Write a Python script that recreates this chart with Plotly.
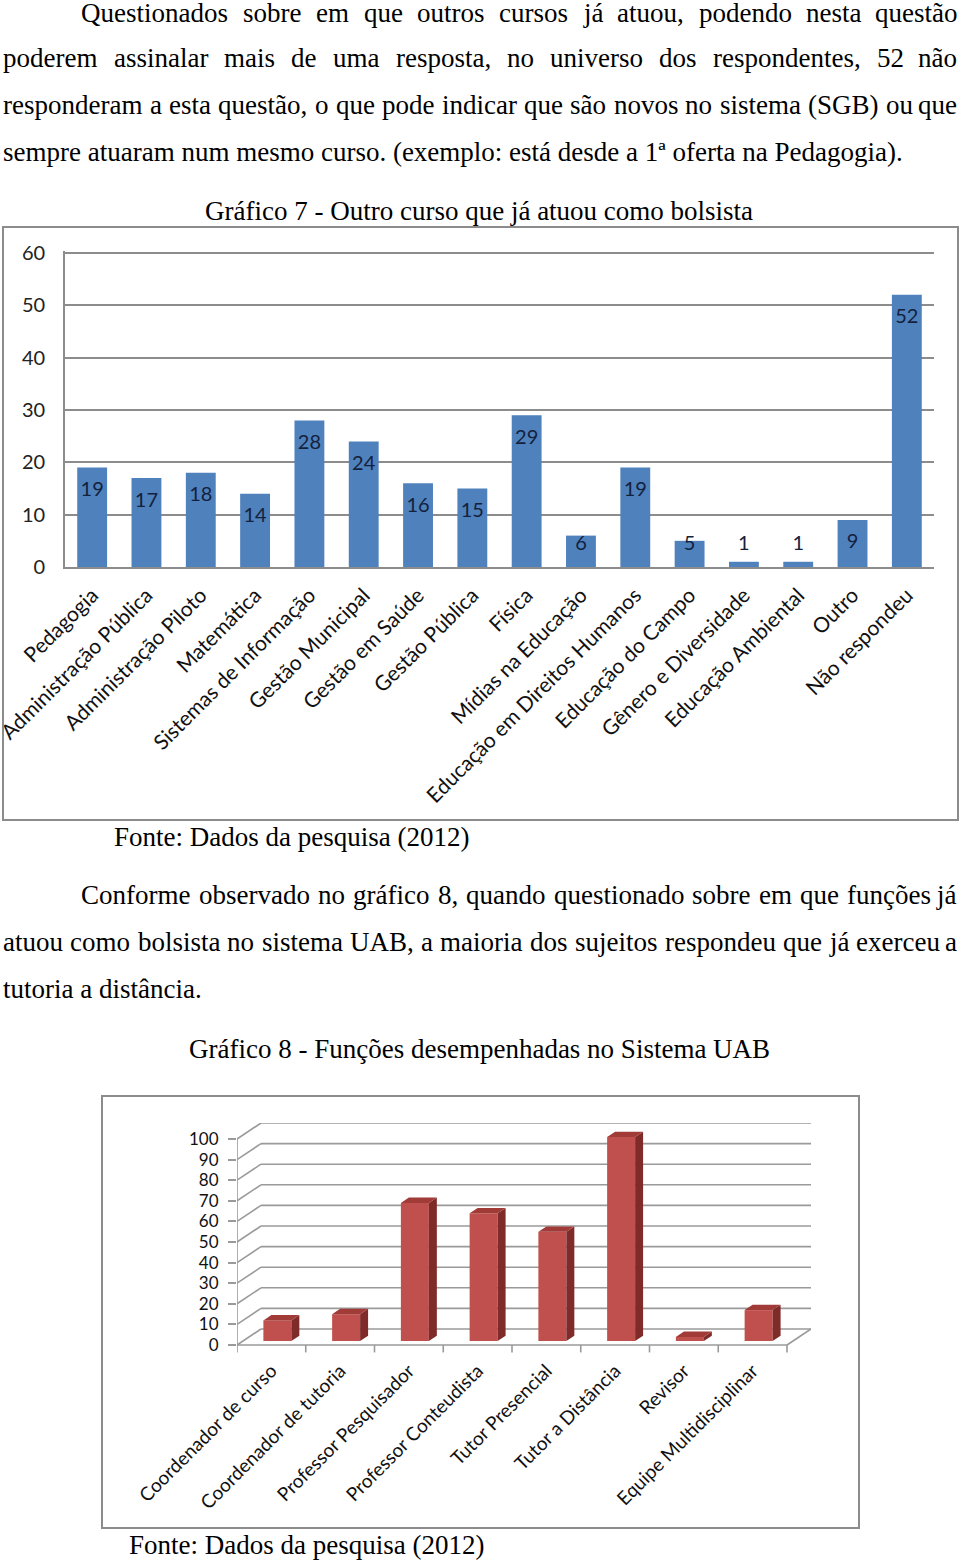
import unicodedata
import plotly.graph_objects as go

W, H = 960, 1561

# ---------------- data ----------------
courses = ["Pedagogia", "Administração Pública", "Administração Piloto", "Matemática",
           "Sistemas de Informação", "Gestão Municipal", "Gestão em Saúde", "Gestão Pública",
           "Física", "Mídias na Educação", "Educação em Direitos Humanos", "Educação do Campo",
           "Gênero e Diversidade", "Educação Ambiental", "Outro", "Não respondeu"]
course_counts = [19, 17, 18, 14, 28, 24, 16, 15, 29, 6, 19, 5, 1, 1, 9, 52]
y1_ticks = [0, 10, 20, 30, 40, 50, 60]

roles = ["Coordenador de curso", "Coordenador de tutoria", "Professor Pesquisador",
         "Professor Conteudista", "Tutor Presencial", "Tutor a Distância", "Revisor",
         "Equipe Multidisciplinar"]
role_counts = [10, 13, 67, 62, 53, 99, 2, 15]
y2_ticks = [0, 10, 20, 30, 40, 50, 60, 70, 80, 90, 100]

para1 = ["Questionados sobre em que outros cursos já atuou, podendo nesta questão",
         "poderem assinalar mais de uma resposta, no universo dos respondentes, 52 não",
         "responderam a esta questão, o que pode indicar que são novos no sistema (SGB) ou que",
         "sempre atuaram num mesmo curso. (exemplo: está desde a 1ª oferta na Pedagogia)."]
para2 = ["Conforme observado no gráfico 8, quando questionado sobre em que funções já",
         "atuou como bolsista no sistema UAB, a maioria dos sujeitos respondeu que já exerceu a",
         "tutoria a distância."]
title1 = "Gráfico 7 - Outro curso que já atuou como bolsista"
title2 = "Gráfico 8 - Funções desempenhadas no Sistema UAB"
source = "Fonte: Dados da pesquisa (2012)"

# ---------------- helpers ----------------
def fx(px):
    return px / W

def fy(py):
    return 1 - py / H

SERIF = "Liberation Serif"
SANS = "Lato"
TS = 27

TW = {' ': 250, '!': 333, '(': 333, ')': 333, ',': 250, '-': 333, '.': 250, ':': 278,
      'ª': 276}
for d in "0123456789":
    TW[d] = 500
TW.update({'A': 722, 'B': 667, 'C': 667, 'D': 722, 'E': 611, 'F': 556, 'G': 722, 'H': 722,
           'I': 333, 'J': 389, 'K': 722, 'L': 611, 'M': 889, 'N': 722, 'O': 722, 'P': 556,
           'Q': 722, 'R': 667, 'S': 556, 'T': 611, 'U': 722, 'V': 722, 'W': 944, 'X': 722,
           'Y': 722, 'Z': 611,
           'a': 444, 'b': 500, 'c': 444, 'd': 500, 'e': 444, 'f': 333, 'g': 500, 'h': 500,
           'i': 278, 'j': 278, 'k': 500, 'l': 278, 'm': 778, 'n': 500, 'o': 500, 'p': 500,
           'q': 500, 'r': 333, 's': 389, 't': 278, 'u': 500, 'v': 500, 'w': 722, 'x': 500,
           'y': 500, 'z': 444})

def tw(s, size=TS):
    tot = 0
    for ch in s:
        if ch not in TW:
            ch = unicodedata.normalize("NFD", ch)[0]
        tot += TW.get(ch, 500)
    return tot * size / 1000.0

annotations = []

def text_ann(txt, x, y, anchor="left", size=TS, font=SERIF):
    annotations.append(dict(text=txt, x=fx(x), y=fy(y), xref="paper", yref="paper",
                            xanchor=anchor, yanchor="middle", showarrow=False,
                            borderpad=0, font=dict(family=font, size=size, color="black")))

def justify(line, left, right, y):
    words = line.split(" ")
    widths = [tw(w) for w in words]
    gap = (right - left - sum(widths)) / (len(words) - 1)
    x = left
    for i, w in enumerate(words):
        if i == len(words) - 1:
            text_ann(w, right, y, "right")
        else:
            text_ann(w, x, y, "left")
        x += widths[i] + gap

# paragraphs
justify(para1[0], 80, 958, 13)
justify(para1[1], 2, 958, 58)
justify(para1[2], 2, 958, 105)
text_ann(para1[3], 2, 152)
text_ann(title1, 479, 211, "center")
text_ann(source, 113, 837)
justify(para2[0], 80, 958, 895)
justify(para2[1], 2, 958, 942)
text_ann(para2[2], 2, 989)
text_ann(title2, 479, 1049, "center")
text_ann(source, 128, 1545)

fig = go.Figure()

# ---------------- chart 1 ----------------
fig.add_trace(go.Bar(x=courses, y=course_counts, marker=dict(color="#4f81bd", line=dict(width=0)),
                     xaxis="x", yaxis="y", hoverinfo="x+y", showlegend=False))
lab_y = [max(v - 4.5, 4.2) for v in course_counts]
fig.add_trace(go.Scatter(x=courses, y=lab_y, mode="text", text=[str(v) for v in course_counts],
                         textfont=dict(family=SANS, size=20, color="#14213d"),
                         xaxis="x", yaxis="y", hoverinfo="skip", showlegend=False,
                         cliponaxis=False))

# ---------------- chart 2 (3-D look) ----------------
DX = 24 / 68.75          # depth offset in category units
DY = 16 / 2.06           # depth offset in value units
BW = 0.407               # bar front width
SDX = 0.116              # bar side depth
SDY = 2.6                # bar top depth
b0 = 0.25 * DY
xc = [i + 0.25 * DX for i in range(len(roles))]

fig.add_trace(go.Bar(x=xc, y=role_counts, base=[b0] * len(roles), width=BW,
                     marker=dict(color="#c0504d", line=dict(width=0)),
                     xaxis="x2", yaxis="y2", hovertext=roles, hoverinfo="text+y",
                     showlegend=False))
sx, sy, tx, ty = [], [], [], []
for x, v in zip(xc, role_counts):
    r, l, top = x + BW / 2, x - BW / 2, b0 + v
    sx += [r, r + SDX, r + SDX, r, r, None]
    sy += [b0, b0 + SDY, top + SDY, top, b0, None]
    tx += [l, r, r + SDX, l + SDX, l, None]
    ty += [top, top, top + SDY, top + SDY, top, None]
fig.add_trace(go.Scatter(x=sx, y=sy, mode="lines", fill="toself", fillcolor="#7f2b29",
                         line=dict(width=0, color="#7f2b29"), xaxis="x2", yaxis="y2",
                         hoverinfo="skip", showlegend=False))
fig.add_trace(go.Scatter(x=tx, y=ty, mode="lines", fill="toself", fillcolor="#a03b38",
                         line=dict(width=0, color="#a03b38"), xaxis="x2", yaxis="y2",
                         hoverinfo="skip", showlegend=False))

GRID2 = dict(color="#9a9a9a", width=1.6)
shapes = []
n2 = len(roles)
for v in y2_ticks:
    shapes.append(dict(type="line", xref="x2", yref="y2", x0=-0.5 + DX, x1=n2 - 0.5 + DX,
                       y0=v + DY, y1=v + DY, line=GRID2, layer="below"))
    shapes.append(dict(type="line", xref="x2", yref="y2", x0=-0.5, x1=-0.5 + DX,
                       y0=v, y1=v + DY, line=GRID2, layer="below"))
shapes.append(dict(type="line", xref="x2", yref="y2", x0=-0.5, x1=-0.5, y0=0, y1=y2_ticks[-1],
                   line=GRID2, layer="below"))
shapes.append(dict(type="line", xref="x2", yref="y2", x0=-0.5, x1=n2 - 0.5, y0=0, y1=0,
                   line=GRID2, layer="below"))
shapes.append(dict(type="line", xref="x2", yref="y2", x0=n2 - 0.5, x1=n2 - 0.5 + DX, y0=0, y1=DY,
                   line=GRID2, layer="below"))
for i in range(n2 + 1):
    shapes.append(dict(type="line", xref="x2", yref="y2", x0=i - 0.5, x1=i - 0.5, y0=0, y1=-3.6,
                       line=GRID2, layer="below"))

# chart borders
shapes.append(dict(type="rect", xref="paper", yref="paper", x0=fx(3), x1=fx(958),
                   y0=fy(820), y1=fy(227), line=dict(color="#8c8c8c", width=2)))
shapes.append(dict(type="rect", xref="paper", yref="paper", x0=fx(102), x1=fx(859),
                   y0=fy(1528), y1=fy(1096), line=dict(color="#8c8c8c", width=2)))

Y1MAX = 60.3
PX1 = (567 - 253) / 60.0
Y2MIN = -3.9
fig.update_layout(
    width=W, height=H, margin=dict(l=0, r=0, t=0, b=0, autoexpand=False),
    paper_bgcolor="white", plot_bgcolor="white",
    bargap=0.45, showlegend=False,
    annotations=annotations, shapes=shapes,
    xaxis=dict(domain=[fx(65), fx(934)], anchor="y", type="category", automargin=False,
               range=[-0.5, len(courses) - 0.5], tickangle=-45, tickmode="linear", dtick=1,
               showline=True, linecolor="#8c8c8c", linewidth=1.6, ticks="",
               ticklabelstandoff=6, showgrid=False, zeroline=False,
               tickfont=dict(family=SANS, size=21, color="#111111")),
    yaxis=dict(domain=[fy(567), fy(567 - Y1MAX * PX1)], anchor="x", range=[0, Y1MAX],
               tickvals=y1_ticks, automargin=False,
               showline=True, linecolor="#8c8c8c", linewidth=1.6, ticks="",
               ticklabelstandoff=14, showgrid=True, gridcolor="#8c8c8c", gridwidth=1.6,
               zeroline=False, tickfont=dict(family=SANS, size=20, color="#222222")),
    xaxis2=dict(domain=[fx(237), fx(811)], anchor="y2", range=[-0.5, n2 - 0.5 + DX],
                automargin=False,
                tickvals=list(range(n2)), ticktext=roles, tickangle=-45, ticks="",
                ticklabelstandoff=2, showline=False, showgrid=False, zeroline=False,
                tickfont=dict(family=SANS, size=19, color="#111111")),
    yaxis2=dict(domain=[fy(1345 - Y2MIN * 2.06), fy(1345 - (y2_ticks[-1] + DY) * 2.06)],
                anchor="x2", range=[Y2MIN, y2_ticks[-1] + DY], tickvals=y2_ticks,
                automargin=False,
                ticks="outside", ticklen=8, tickcolor="#9a9a9a", tickwidth=1.6,
                ticklabelstandoff=6, showline=False, showgrid=False, zeroline=False,
                tickfont=dict(family=SANS, size=17, color="#111111")),
)

fig.write_html("out.html")
